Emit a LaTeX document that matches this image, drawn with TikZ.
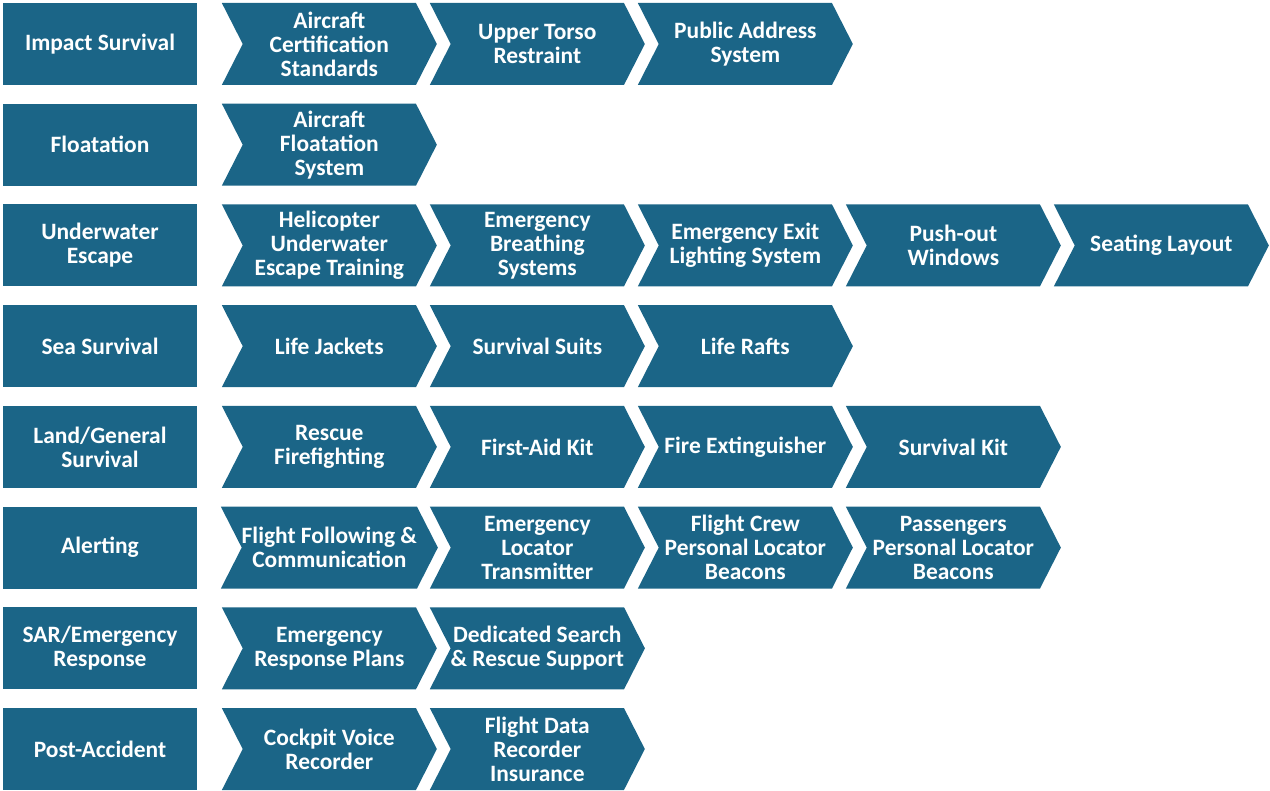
\documentclass[tikz,border=0pt]{standalone}
\usepackage{fontspec}
\setmainfont{Carlito}
\usepackage{tikz}
\usetikzlibrary{shapes.symbols,positioning}
\definecolor{sfblue}{RGB}{27,101,135}
\tikzstyle{cat} = [rectangle, fill=sfblue, text=white, align=center,
    font=\bfseries\fontsize{17.6}{18}\selectfont,
    minimum width=145.5pt, minimum height=61.5pt, inner sep=0pt]
\tikzstyle{item} = [signal, signal from=west, signal to=east,
    signal pointer angle=126, fill=sfblue, text=white, align=center,
    font=\bfseries\fontsize{17.6}{18}\selectfont,
    minimum width=161.25pt, minimum height=61.5pt, inner sep=0pt]

\begin{document}
\begin{tikzpicture}[node distance=75.54pt]
        \useasboundingbox (0,0) rectangle (952.5pt,-593.25pt);
        % Place categories
        \node [cat] (imp) at (75pt,-33pt) {Impact Survival};
        \node [cat, below of=imp] (flo) {Floatation};
        \node [cat, below of=flo] (uwe) {Underwater\\Escape};
        \node [cat, below of=uwe] (sea) {Sea Survival};
        \node [cat, below of=sea] (land) {Land/General\\Survival};
        \node [cat, below of=land] (alert) {Alerting};
        \node [cat, below of=alert] (sar) {SAR/Emergency\\Response};
        \node [cat, below of=sar] (post) {Post-Accident};
        % Place measures
        \node [item, right of=imp, node distance=172pt] (imp1) {Aircraft\\Certification\\Standards};
        \node [item, right of=imp1, node distance=156pt] (imp2) {Upper Torso\\Restraint};
        \node [item, right of=imp2, node distance=156pt] (imp3) {Public Address\\System};
        \node [item, right of=flo, node distance=172pt] (flo1) {Aircraft\\Floatation\\System};
        \node [item, right of=uwe, node distance=172pt] (uwe1) {Helicopter\\Underwater\\Escape Training};
        \node [item, right of=uwe1, node distance=156pt] (uwe2) {Emergency\\Breathing\\Systems};
        \node [item, right of=uwe2, node distance=156pt] (uwe3) {Emergency Exit\\Lighting System};
        \node [item, right of=uwe3, node distance=156pt] (uwe4) {Push-out\\Windows};
        \node [item, right of=uwe4, node distance=156pt] (uwe5) {Seating Layout};
        \node [item, right of=sea, node distance=172pt] (sea1) {Life Jackets};
        \node [item, right of=sea1, node distance=156pt] (sea2) {Survival Suits};
        \node [item, right of=sea2, node distance=156pt] (sea3) {Life Rafts};
        \node [item, right of=land, node distance=172pt] (land1) {Rescue\\Firefighting};
        \node [item, right of=land1, node distance=156pt] (land2) {First-Aid Kit};
        \node [item, right of=land2, node distance=156pt] (land3) {Fire Extinguisher};
        \node [item, right of=land3, node distance=156pt] (land4) {Survival Kit};
        \node [item, right of=alert, node distance=172pt] (alert1) {Flight Following \&\\Communication};
        \node [item, right of=alert1, node distance=156pt] (alert2) {Emergency\\Locator\\Transmitter};
        \node [item, right of=alert2, node distance=156pt] (alert3) {Flight Crew\\Personal Locator\\Beacons};
        \node [item, right of=alert3, node distance=156pt] (alert4) {Passengers\\Personal Locator\\Beacons};
        \node [item, right of=sar, node distance=172pt] (sar1) {Emergency\\Response Plans};
        \node [item, right of=sar1, node distance=156pt] (sar2) {Dedicated Search\\\& Rescue Support};
        \node [item, right of=post, node distance=172pt] (post1) {Cockpit Voice\\Recorder};
        \node [item, right of=post1, node distance=156pt] (post2) {Flight Data\\Recorder\\Insurance};
\end{tikzpicture}
\end{document}
